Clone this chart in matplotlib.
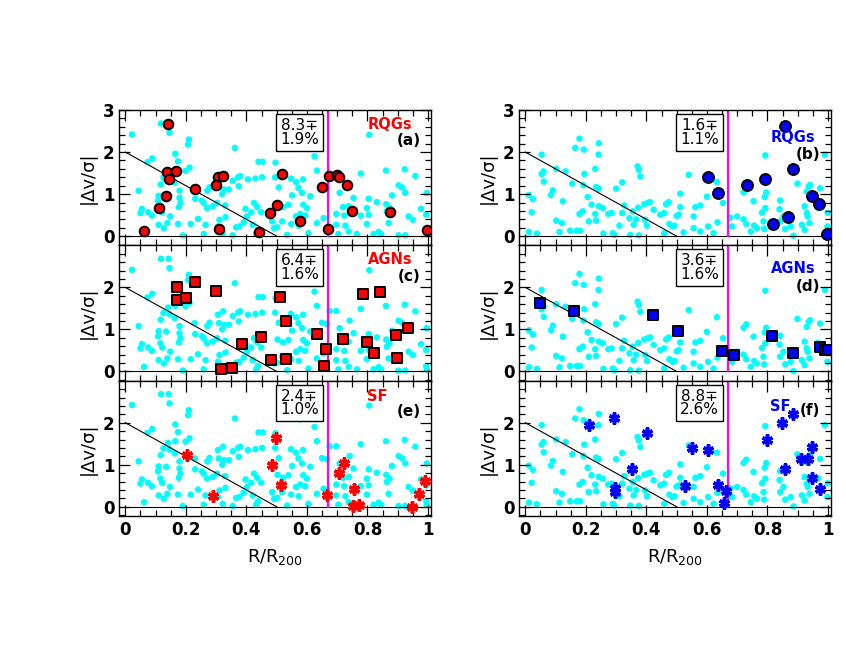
import matplotlib
matplotlib.use('Agg')
import matplotlib.pyplot as plt
from matplotlib.ticker import MultipleLocator
import numpy as np

plt.rcParams['font.family'] = 'DejaVu Sans'
plt.rcParams['mathtext.default'] = 'regular'

# background galaxies, left column (same in all three panels)
cyan_left = [
    (0.022, 2.42), (0.118, 2.68), (0.143, 2.68), (0.146, 2.46), (0.210, 2.30), (0.207, 2.18),
    (0.362, 2.10), (0.165, 1.96), (0.089, 1.85), (0.073, 1.76), (0.174, 1.78), (0.212, 1.63),
    (0.199, 1.55), (0.165, 1.56), (0.141, 1.52), (0.126, 1.39), (0.146, 1.36), (0.117, 1.23),
    (0.163, 1.27), (0.179, 1.08), (0.229, 1.15), (0.044, 1.08), (0.110, 0.96), (0.135, 0.95),
    (0.108, 0.84), (0.179, 0.91), (0.182, 0.79), (0.177, 0.69), (0.231, 0.89), (0.253, 0.84),
    (0.271, 1.08), (0.278, 1.16), (0.306, 1.35), (0.323, 1.43), (0.309, 1.15), (0.326, 1.11),
    (0.342, 1.11), (0.320, 1.00), (0.259, 0.79), (0.270, 0.67), (0.289, 0.71), (0.303, 0.79),
    (0.330, 0.73), (0.355, 1.32), (0.372, 1.40), (0.380, 1.43), (0.375, 1.19), (0.405, 1.35),
    (0.430, 1.37), (0.452, 1.40), (0.440, 1.77), (0.454, 1.77), (0.055, 0.65), (0.050, 0.55),
    (0.075, 0.57), (0.088, 0.49), (0.122, 0.57), (0.116, 0.67), (0.148, 0.47), (0.110, 0.27),
    (0.139, 0.31), (0.127, 0.19), (0.174, 0.29), (0.216, 0.29), (0.240, 0.41), (0.265, 0.27),
    (0.311, 0.39), (0.331, 0.45), (0.306, 0.23), (0.322, 0.07), (0.259, 0.05), (0.190, 0.02),
    (0.062, 0.11), (0.355, 0.02), (0.366, 0.21), (0.397, 0.65), (0.425, 0.79), (0.436, 0.69),
    (0.416, 0.57), (0.449, 0.57), (0.377, 0.23), (0.391, 0.33), (0.402, 0.47), (0.421, 0.27),
    (0.438, 0.13), (0.432, 0.05), (0.485, 0.35), (0.492, 0.19),
    (0.576, 2.08), (0.806, 2.41), (0.625, 1.90), (0.496, 1.75), (0.633, 1.56), (0.675, 1.44),
    (0.697, 1.44), (0.861, 1.56), (0.923, 1.59), (0.958, 1.43), (0.778, 1.49), (0.547, 1.37),
    (0.564, 1.29), (0.587, 1.35), (0.507, 1.16), (0.650, 1.16), (0.666, 1.13), (0.572, 1.15),
    (0.551, 0.97), (0.584, 1.03), (0.611, 0.95), (0.741, 1.21), (0.708, 1.03), (0.903, 1.21),
    (0.914, 1.16), (0.925, 1.03), (0.996, 1.03), (0.881, 0.97), (0.754, 0.91), (0.804, 0.89),
    (0.831, 0.81), (0.862, 0.76), (0.873, 0.67), (0.864, 0.59), (0.503, 0.76), (0.521, 0.69),
    (0.539, 0.75), (0.588, 0.75), (0.600, 0.67), (0.564, 0.47), (0.578, 0.53), (0.594, 0.49),
    (0.719, 0.69), (0.738, 0.71), (0.723, 0.49), (0.697, 0.53), (0.778, 0.49), (0.804, 0.51),
    (0.518, 0.35), (0.548, 0.29), (0.573, 0.25), (0.633, 0.31), (0.655, 0.43), (0.697, 0.27),
    (0.727, 0.25), (0.798, 0.29), (0.870, 0.31), (0.936, 0.47), (0.950, 0.39), (0.977, 0.65),
    (0.994, 0.51), (0.535, 0.03), (0.605, 0.07), (0.704, 0.05), (0.765, 0.05), (0.820, 0.05),
    (0.845, 0.05), (0.903, 0.02), (0.925, 0.02), (0.996, 0.05), (0.994, 0.13), (0.738, 0.11),
    (0.837, 0.10), (0.501, 0.21), (0.798, 0.67), (0.495, 1.40),
]

# background galaxies, right column
cyan_right = [
    (0.179, 2.32), (0.243, 2.21), (0.165, 2.10), (0.193, 2.06), (0.242, 1.94), (0.054, 1.94),
    (0.102, 1.60), (0.060, 1.54), (0.054, 1.48), (0.061, 1.30), (0.133, 1.54), (0.195, 1.48),
    (0.231, 1.60), (0.371, 1.66), (0.375, 1.58), (0.380, 1.42), (0.155, 1.25), (0.192, 1.21),
    (0.234, 1.17), (0.243, 1.13), (0.320, 1.28), (0.300, 1.13), (0.091, 1.09), (0.085, 0.98),
    (0.012, 0.98), (0.025, 0.88), (0.124, 0.83), (0.206, 0.93), (0.219, 0.75), (0.243, 0.71),
    (0.256, 0.67), (0.021, 0.57), (0.190, 0.59), (0.179, 0.53), (0.231, 0.53), (0.274, 0.53),
    (0.285, 0.55), (0.327, 0.73), (0.320, 0.55), (0.355, 0.59), (0.373, 0.68), (0.393, 0.76),
    (0.404, 0.79), (0.412, 0.81), (0.424, 0.63), (0.344, 0.43), (0.366, 0.40), (0.396, 0.39),
    (0.358, 0.27), (0.311, 0.25), (0.210, 0.35), (0.234, 0.37), (0.102, 0.37), (0.121, 0.31),
    (0.113, 0.10), (0.148, 0.13), (0.170, 0.13), (0.181, 0.13), (0.012, 0.10), (0.038, 0.06),
    (0.258, 0.06), (0.289, 0.07), (0.294, 0.03), (0.347, 0.03), (0.375, 0.02), (0.446, 0.51),
    (0.459, 0.55), (0.465, 0.76), (0.474, 0.81), (0.500, 0.48), (0.476, 0.29), (0.487, 0.23),
    (0.459, 0.07), (0.402, 0.25),
    (0.540, 1.46), (0.512, 1.01), (0.512, 0.69), (0.507, 0.51), (0.493, 0.25), (0.523, 0.09),
    (0.556, 0.47), (0.562, 0.69), (0.578, 0.73), (0.600, 0.94), (0.633, 1.29), (0.653, 0.79),
    (0.635, 0.33), (0.604, 0.23), (0.622, 0.07), (0.578, 0.11), (0.556, 0.19), (0.677, 0.44),
    (0.700, 0.47), (0.683, 0.23), (0.721, 0.40), (0.730, 0.29), (0.721, 1.04), (0.730, 1.12),
    (0.754, 0.83), (0.756, 0.25), (0.745, 0.11), (0.765, 0.19), (0.787, 0.35), (0.789, 0.17),
    (0.782, 0.56), (0.793, 0.67), (0.796, 1.04), (0.791, 0.93), (0.793, 1.92), (0.842, 0.85),
    (0.840, 0.64), (0.842, 0.35), (0.853, 0.47), (0.877, 0.23), (0.859, 0.17), (0.886, 0.01),
    (0.899, 1.25), (0.936, 1.18), (0.941, 1.22), (0.930, 1.06), (0.923, 0.71), (0.930, 0.55),
    (0.933, 0.47), (0.914, 0.27), (0.939, 0.31), (0.974, 1.14), (0.990, 1.94), (0.967, 0.68),
    (0.999, 0.56), (0.998, 0.23), (0.923, 0.15),
]

# selected galaxies per panel
rqg_left = [
    (0.141, 2.67), (0.139, 1.52), (0.166, 1.56), (0.143, 1.37), (0.135, 0.95), (0.111, 0.67),
    (0.061, 0.13), (0.229, 1.13), (0.306, 1.40), (0.323, 1.44), (0.299, 1.22), (0.310, 0.17),
    (0.441, 0.11), (0.477, 0.56), (0.501, 0.75), (0.519, 1.47), (0.576, 0.37), (0.651, 1.16),
    (0.674, 1.44), (0.668, 0.16), (0.699, 1.46), (0.705, 1.40), (0.732, 1.22), (0.749, 0.59),
    (0.873, 0.57), (0.996, 0.15),
]
agn_left = [
    (0.172, 2.02), (0.171, 1.71), (0.200, 1.75), (0.229, 2.14), (0.299, 1.92), (0.510, 1.76),
    (0.530, 1.21), (0.386, 0.66), (0.448, 0.81), (0.315, 0.05), (0.354, 0.09), (0.482, 0.28),
    (0.530, 0.30), (0.634, 0.89), (0.662, 0.53), (0.655, 0.14), (0.720, 0.77), (0.785, 1.84),
    (0.841, 1.88), (0.797, 0.70), (0.822, 0.43), (0.895, 0.87), (0.934, 1.04), (0.898, 0.31),
]
sf_left = [
    (0.205, 1.23), (0.290, 0.25), (0.497, 1.63), (0.486, 1.00), (0.513, 0.51), (0.667, 0.28),
    (0.706, 0.81), (0.721, 1.05), (0.757, 0.42), (0.752, 0.02), (0.772, 0.05), (0.947, 0.00),
    (0.970, 0.30), (0.990, 0.62),
]
rqg_right = [
    (0.602, 1.41), (0.636, 1.02), (0.733, 1.22), (0.792, 1.36), (0.857, 2.63), (0.884, 1.60),
    (0.817, 0.30), (0.869, 0.45), (0.947, 0.95), (0.970, 0.77), (0.997, 0.04),
]
agn_right = [
    (0.048, 1.64), (0.160, 1.44), (0.422, 1.34), (0.504, 0.96), (0.650, 0.49), (0.688, 0.38),
    (0.815, 0.85), (0.884, 0.43), (0.975, 0.58), (0.989, 0.50), (1.000, 0.50),
]
sf_right = [
    (0.211, 1.94), (0.293, 2.12), (0.401, 1.76), (0.351, 0.91), (0.295, 0.44), (0.295, 0.34),
    (0.528, 0.50), (0.550, 1.39), (0.605, 1.36), (0.636, 0.51), (0.662, 0.38), (0.655, 0.09),
    (0.800, 1.59), (0.849, 2.00), (0.859, 0.91), (0.886, 2.21), (0.912, 1.13), (0.934, 1.13),
    (0.947, 1.42), (0.948, 0.69), (0.975, 0.42),
]

box_texts = ['8.3\u2213\n1.9%', '1.6\u2213\n1.1%', '6.4\u2213\n1.6%',
             '3.6\u2213\n1.6%', '2.4\u2213\n1.0%', '8.8\u2213\n2.6%']
type_names = ['RQGs', 'RQGs', 'AGNs', 'AGNs', 'SF', 'SF']
panel_tags = ['(a)', '(b)', '(c)', '(d)', '(e)', '(f)']
r_cut = 0.67

fig = plt.figure(figsize=(8.46, 6.54), dpi=100)

col_left = [0.141, 0.6138]
ax_w = 0.3685
ax_h = 0.2069
ax_bottom = 0.211

selected = [rqg_left, rqg_right, agn_left, agn_right, sf_left, sf_right]

# label positions (x, y) in data units
name_pos = [(0.80, 2.66), (0.81, 2.34), (0.80, 2.66), (0.81, 2.44), (0.80, 2.62), (0.81, 2.38)]
tag_pos = [(0.975, 2.27), (0.975, 1.95), (0.975, 2.27), (0.975, 2.03), (0.975, 2.27), (0.975, 2.30)]

for i in range(6):
    row, col = i // 2, i % 2
    ax = fig.add_axes([col_left[col], ax_bottom + (2 - row) * ax_h, ax_w, ax_h])

    bg = np.array(cyan_left if col == 0 else cyan_right)
    ax.scatter(bg[:, 0], bg[:, 1], s=22, color='#00ffff', edgecolors='none', zorder=1)

    # caustic-like line and zero line
    ax.plot([0, 0.5], [2, 0], color='black', lw=0.8, zorder=2)
    ax.axhline(0, color='black', lw=0.8, zorder=2)
    ax.plot([r_cut, r_cut], [0, 3], color='#ff00ff', lw=1.6, zorder=2)

    pts = np.array(selected[i])
    fc = 'red' if col == 0 else 'blue'
    if row == 0:
        ax.scatter(pts[:, 0], pts[:, 1], s=48 if col == 0 else 62, marker='o', color=fc,
                   edgecolors='black', linewidths=1.4, zorder=3)
    elif row == 1:
        ax.scatter(pts[:, 0], pts[:, 1], s=44, marker='s', color=fc,
                   edgecolors='black', linewidths=1.4, zorder=3)
    else:
        ax.plot(pts[:, 0], pts[:, 1], linestyle='none', marker=(6, 2, 0), ms=8,
                mew=2.4, color=fc, zorder=3)
        ax.plot(pts[:, 0], pts[:, 1], linestyle='none', marker=(2, 2, 0), ms=8,
                mew=2.4, color=fc, zorder=3)

    ax.text(0.575, 2.47, box_texts[i], ha='center', va='center', fontsize=11,
            linespacing=0.9,
            bbox=dict(boxstyle='square,pad=0.25', fc='white', ec='black', lw=1.0), zorder=4)

    ax.text(name_pos[i][0], name_pos[i][1], type_names[i], color=fc, fontsize=10.5,
            fontweight='bold', ha='left', va='center', zorder=4)
    ax.text(tag_pos[i][0], tag_pos[i][1], panel_tags[i], color='black', fontsize=11,
            fontweight='bold', ha='right', va='center', zorder=4)

    ax.set_xlim(-0.02, 1.01)
    ax.set_ylim(-0.22, 3.0)
    ax.xaxis.set_major_locator(MultipleLocator(0.2))
    ax.xaxis.set_minor_locator(MultipleLocator(0.05))
    ax.yaxis.set_minor_locator(MultipleLocator(0.2))
    ax.set_yticks([0, 1, 2, 3] if row == 0 else [0, 1, 2])
    ax.set_yticklabels(['0', '1', '2', '3'] if row == 0 else ['0', '1', '2'])
    ax.tick_params(which='both', direction='in', top=True, right=True,
                   labelsize=12, width=0.9)
    ax.tick_params(which='major', length=8)
    ax.tick_params(which='minor', length=4)
    for lab in ax.get_yticklabels():
        lab.set_fontweight('bold')
    if row == 2:
        ax.set_xticks([0, 0.2, 0.4, 0.6, 0.8, 1.0])
        ax.set_xticklabels(['0', '0.2', '0.4', '0.6', '0.8', '1'], fontweight='bold')
        ax.set_xlabel('R/R$_{200}$', fontsize=13, labelpad=6)
    else:
        ax.tick_params(labelbottom=False)
    ax.set_ylabel('|\u0394v/\u03c3|', fontsize=13, labelpad=4)
    for sp in ax.spines.values():
        sp.set_linewidth(1.0)

fig.savefig('out.png', dpi=100)
